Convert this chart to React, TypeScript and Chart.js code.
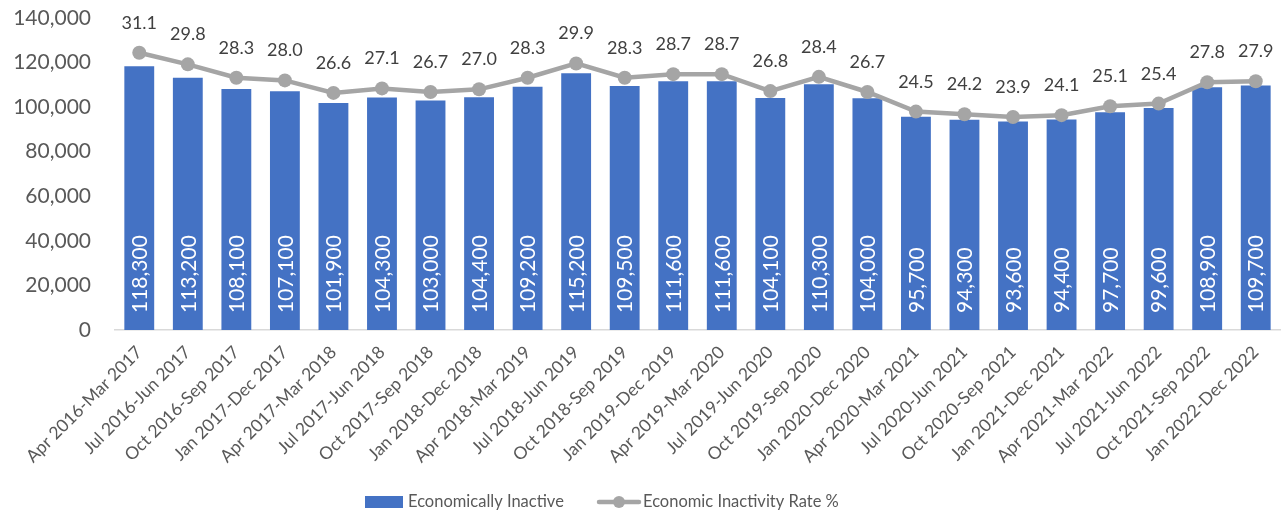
import React, { useEffect, useRef } from "react";
import { Chart, registerables } from "chart.js";

Chart.register(...registerables);

const categories = [
  "Apr 2016-Mar 2017", "Jul 2016-Jun 2017", "Oct 2016-Sep 2017", "Jan 2017-Dec 2017",
  "Apr 2017-Mar 2018", "Jul 2017-Jun 2018", "Oct 2017-Sep 2018", "Jan 2018-Dec 2018",
  "Apr 2018-Mar 2019", "Jul 2018-Jun 2019", "Oct 2018-Sep 2019", "Jan 2019-Dec 2019",
  "Apr 2019-Mar 2020", "Jul 2019-Jun 2020", "Oct 2019-Sep 2020", "Jan 2020-Dec 2020",
  "Apr 2020-Mar 2021", "Jul 2020-Jun 2021", "Oct 2020-Sep 2021", "Jan 2021-Dec 2021",
  "Apr 2021-Mar 2022", "Jul 2021-Jun 2022", "Oct 2021-Sep 2022", "Jan 2022-Dec 2022",
];

const economicallyInactive = [
  118300, 113200, 108100, 107100, 101900, 104300, 103000, 104400,
  109200, 115200, 109500, 111600, 111600, 104100, 110300, 104000,
  95700, 94300, 93600, 94400, 97700, 99600, 108900, 109700,
];

const inactivityRate = [
  31.1, 29.8, 28.3, 28.0, 26.6, 27.1, 26.7, 27.0,
  28.3, 29.9, 28.3, 28.7, 28.7, 26.8, 28.4, 26.7,
  24.5, 24.2, 23.9, 24.1, 25.1, 25.4, 27.8, 27.9,
];

const seriesNames = ["Economically Inactive", "Economic Inactivity Rate %"];

const FONT = "Lato, 'Open Sans', sans-serif";
const BAR_COLOR = "#4472C4";
const LINE_COLOR = "#A5A5A5";

const fmt = (v: number) => v.toLocaleString("en-US");

export default function App() {
  const ref = useRef<HTMLCanvasElement>(null);

  useEffect(() => {
    document.body.style.margin = "0";
    if (!ref.current) return;

    const valueLabels = {
      id: "valueLabels",
      afterDatasetsDraw(chart: any) {
        const ctx = chart.ctx;
        ctx.save();
        const barMeta = chart.getDatasetMeta(0);
        ctx.font = `21px ${FONT}`;
        ctx.fillStyle = "#FFFFFF";
        ctx.textAlign = "left";
        ctx.textBaseline = "middle";
        barMeta.data.forEach((el: any, i: number) => {
          ctx.save();
          ctx.translate(el.x + 1, el.base - 17);
          ctx.rotate(-Math.PI / 2);
          ctx.fillText(fmt(economicallyInactive[i]), 0, 0);
          ctx.restore();
        });
        const lineMeta = chart.getDatasetMeta(1);
        ctx.font = `18px ${FONT}`;
        ctx.fillStyle = "#404040";
        ctx.textAlign = "center";
        ctx.textBaseline = "alphabetic";
        lineMeta.data.forEach((el: any, i: number) => {
          ctx.fillText(inactivityRate[i].toFixed(1), el.x, el.y - 24);
        });
        ctx.restore();
      },
    };

    const customLegend = {
      id: "customLegend",
      afterDraw(chart: any) {
        const ctx = chart.ctx;
        const cy = 502;
        ctx.save();
        ctx.font = `16.5px ${FONT}`;
        ctx.textBaseline = "middle";
        ctx.textAlign = "left";
        ctx.fillStyle = BAR_COLOR;
        ctx.fillRect(365, cy - 6, 38, 12);
        ctx.fillStyle = "#595959";
        ctx.fillText(seriesNames[0], 408, cy);
        ctx.strokeStyle = LINE_COLOR;
        ctx.lineWidth = 4.5;
        ctx.lineCap = "round";
        ctx.beginPath();
        ctx.moveTo(599, cy);
        ctx.lineTo(639, cy);
        ctx.stroke();
        ctx.fillStyle = LINE_COLOR;
        ctx.beginPath();
        ctx.arc(619, cy, 6, 0, Math.PI * 2);
        ctx.fill();
        ctx.fillStyle = "#595959";
        ctx.fillText(seriesNames[1], 643, cy);
        ctx.restore();
      },
    };

    const chart = new Chart(ref.current, {
      type: "bar",
      data: {
        labels: categories,
        datasets: [
          {
            type: "bar",
            label: seriesNames[0],
            data: economicallyInactive,
            backgroundColor: BAR_COLOR,
            borderWidth: 0,
            barPercentage: 0.615,
            categoryPercentage: 1,
            yAxisID: "y",
            order: 2,
          },
          {
            type: "line",
            label: seriesNames[1],
            data: inactivityRate,
            borderColor: LINE_COLOR,
            backgroundColor: LINE_COLOR,
            borderWidth: 4.5,
            pointRadius: 7,
            pointBackgroundColor: LINE_COLOR,
            pointBorderWidth: 0,
            tension: 0,
            yAxisID: "y2",
            order: 1,
          } as any,
        ],
      },
      options: {
        animation: false,
        responsive: true,
        maintainAspectRatio: false,
        layout: { padding: { top: 18, left: 0, right: 0, bottom: 0 } },
        plugins: {
          legend: { display: false },
          tooltip: { enabled: false },
        },
        scales: {
          x: {
            offset: true,
            grid: { display: false },
            border: { display: true, color: "#D9D9D9", width: 1.5 },
            ticks: {
              minRotation: 45,
              maxRotation: 45,
              autoSkip: false,
              color: "#595959",
              padding: 4,
              font: { family: FONT, size: 17.5 },
            },
            afterFit: (s: any) => {
              s.height = 186;
            },
          },
          y: {
            min: 0,
            max: 140000,
            grid: { display: false },
            border: { display: false },
            ticks: {
              stepSize: 20000,
              color: "#595959",
              padding: 16,
              font: { family: FONT, size: 21 },
              callback: (v: any) => fmt(Number(v)),
            },
            afterFit: (s: any) => {
              s.width = 115;
              s.paddingTop = 0;
              s.paddingBottom = 0;
            },
          },
          y2: {
            display: false,
            min: 0,
            max: 35,
            position: "right",
          },
        },
      },
      plugins: [valueLabels, customLegend],
    });

    return () => chart.destroy();
  }, []);

  return (
    <div style={{ width: 1281, height: 516, overflow: "hidden", position: "relative" }}>
      <div style={{ position: "absolute", left: 0, top: 0, width: 1287, height: 516 }}>
        <canvas ref={ref} />
      </div>
    </div>
  );
}
